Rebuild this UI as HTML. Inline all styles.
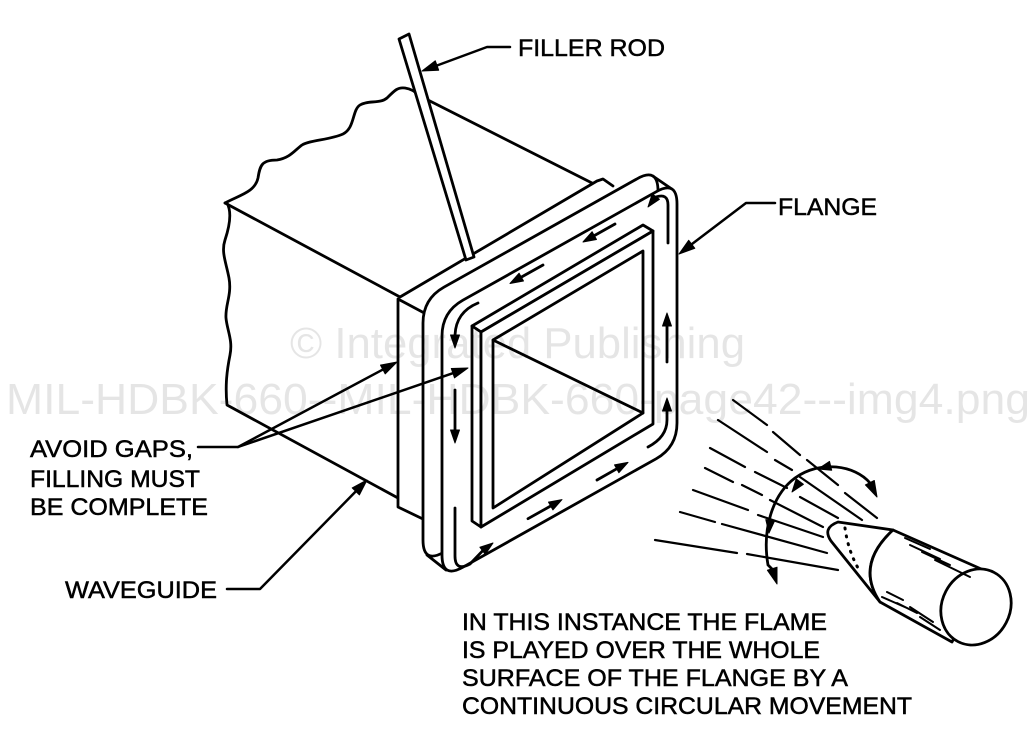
<!DOCTYPE html>
<html><head><meta charset="utf-8"><style>
html,body{margin:0;padding:0;background:#fff;}
svg{display:block;}
text{font-family:"Liberation Sans",Arial,sans-serif;}
</style></head><body>
<svg width="1034" height="745" viewBox="0 0 1034 745" xmlns="http://www.w3.org/2000/svg">
<rect width="1034" height="745" fill="#fff"/>
<g fill="none" stroke="#000" stroke-width="2.8" stroke-linejoin="round" stroke-linecap="round">
<!-- waveguide body -->
<path d="M225,203 C240,195 255,192 258,178 C260,165 262,160 277,160 C290,158 295,150 302,145 C310,140 330,140 343,134 C355,128 352,110 360,105 C368,100 380,104 387,98 C395,90 398,87 405,88 C412,89 415,92 420,96 L592,183"/>
<path d="M225,203 L400,297 L597,181 L603,179 L613,186"/>
<path d="M227,203 C232,212 230,225 225,240 C221,252 226,262 229,278 C232,295 225,305 226,318 C227,330 233,340 230,355 C227,370 225,385 227,405 L398,498"/>
<polygon points="398,299 428,315 425,520 398,507" fill="#fff"/>
<!-- filler rod -->
<polygon points="399,39 409,34 474,257 466,260" fill="#fff"/>
<!-- flange back outline -->
<path d="M443.9,287.2 L637.1,178.8 Q658,167 658,191 L658,408 Q658,432 637.1,443.8 L443.9,552.2 Q423,564 423,540 L423,323 Q423,299 443.9,287.2 Z" fill="#fff"/>
<path d="M652.8,176 L671.8,189"/>
<path d="M427,555 L446,570"/>
<!-- flange front face -->
<path d="M462.9,300.2 L656.1,191.8 Q677,180 677,204 L677,423 Q677,447 656.1,458.8 L462.9,567.2 Q442,579 442,555 L442,336 Q442,312 462.9,300.2 Z" fill="#fff"/>
<!-- track arrows -->
<path d="M615,224 L594.3,235.6"/>
<path d="M543,265 L521.3,277.1"/>
<path d="M668,243 L668,205 Q668,193 656,197"/>
<path d="M478,303 Q456,312 455,335"/>
<path d="M455,390 L455,430"/>
<path d="M455,508 L455,556 Q455,572 470,564 L482.6,550.8"/>
<path d="M528,518.7 L550.7,506"/>
<path d="M597,480 L616.7,468.8"/>
<path d="M648,447 Q667,437 667,420 L667,411"/>
<path d="M667,362 L667,326"/>
<!-- lip -->
<polygon points="472,326 643,225 653,231 481,332" fill="#fff"/>
<polygon points="472,326 481,332 481,527 472,521" fill="#fff"/>
<polygon points="481,332 653,231 653,424 481,527" fill="#fff"/>
<polygon points="493,340 643,251 643,413 493,508" fill="#fff"/>
<path d="M493,340 L643,413"/>
</g>
<!-- arrowheads on track -->
<g fill="#000" stroke="#000" stroke-width="1" stroke-linejoin="round">
<polygon points="583,242 592.1,231.7 596.5,239.5"/>
<polygon points="510,283.5 519.1,273.2 523.5,281"/>
<polygon points="648,207 652.2,193.9 659.4,199.3"/>
<polygon points="455,348 450.5,335 459.5,335"/>
<polygon points="455,443 450.5,430 459.5,430"/>
<polygon points="493,543 485.3,554.4 479.9,547.2"/>
<polygon points="562,499.6 552.9,509.9 548.5,502.1"/>
<polygon points="628,462.4 618.9,472.7 614.5,464.9"/>
<polygon points="667,398 662.5,411 671.5,411"/>
<polygon points="667,313 662.5,326 671.5,326"/>
</g>
<!-- leaders -->
<g fill="none" stroke="#000" stroke-width="2.5" stroke-linejoin="round" stroke-linecap="round">
<path d="M510,47 L487,47 L437,65.5"/>
<path d="M775,203 L746,203 L691.7,244.3"/>
<path d="M198,447 L238,447 L382.9,369.5"/>
<path d="M238,447 L452.9,373.2"/>
<path d="M227,589 L260,589 L355.8,491.4"/>
</g>
<g fill="#000" stroke="#000" stroke-width="1" stroke-linejoin="round">
<polygon points="422,71 435.3,60.8 438.7,70.2"/>
<polygon points="679,254 688.7,240.3 694.8,248.3"/>
<polygon points="397,362 385.2,373.9 380.5,365.1"/>
<polygon points="468,368 454.5,377.9 451.3,368.5"/>
<polygon points="367,480 359.4,494.9 352.2,487.9"/>
</g>
<!-- flame lines -->
<g fill="none" stroke="#000" stroke-width="2.2" stroke-linecap="round">
<path d="M733,400 L767,425 M773,432 L800,455 M807,460 L838,485 M845,493 L877,518"/>
<path d="M718,420 L767,452 M775,460 L792,470 M800,477 L862,520"/>
<path d="M710,448 L745,467 M755,472 L787,488 M800,497 L838,518"/>
<path d="M705,468 L733,482 M742,485 L762,495 M770,500 L823,527"/>
<path d="M693,490 L748,510 M758,515 L823,537"/>
<path d="M680,512 L715,522 M722,524 L827,553"/>
<path d="M655,540 L737,553 M747,554 L838,570"/>
</g>
<!-- circular movement arrow -->
<g fill="none" stroke="#000" stroke-width="2.8" stroke-linecap="round">
<path d="M870,483 C855,465 820,460 795,478 C772,495 762,530 768,565 L772,569"/>
</g>
<g fill="#000" stroke="#000" stroke-width="1" stroke-linejoin="round">
<polygon points="777,584 767.4,570.2 777,567.2"/>
<polygon points="877,497 865.4,484.9 874.3,480.5"/>
<polygon points="792,492 796.2,478.9 803.4,484.3"/>
<polygon points="769,533 765.8,519.6 774.8,520.4"/>
<polygon points="818,469 829.5,461.4 831.7,470.2"/>
</g>
<!-- torch -->
<g fill="#fff" stroke="#000" stroke-width="2.8" stroke-linejoin="round" stroke-linecap="round">
<path d="M838,522 L893,530 Q855,565 880,602 L831,541 Q822,528 838,522 Z"/>
<path d="M893,530 L988,572 L952,642 L880,602 Q855,565 893,530 Z"/>
<ellipse cx="976" cy="607" rx="39" ry="34" transform="rotate(117.6 976 607)"/>
</g>
<path d="M845,528 Q848,550 858,568" fill="none" stroke="#000" stroke-width="3" stroke-dasharray="1 7" stroke-linecap="round"/>
<g fill="none" stroke="#000" stroke-width="2" stroke-linecap="round">
<path d="M905,538 L930,549 M910,545 L940,559 M922,552 L950,565 M935,560 L970,577"/>
<path d="M887,592 L903,600 M882,597 L907,608 M897,603 L917,613 M910,607 L933,622 M920,617 L940,630"/>
</g>
<!-- labels -->
<g fill="#000" stroke="#000" stroke-width="0.5" font-size="24.5">
<text x="518" y="56" textLength="147" lengthAdjust="spacingAndGlyphs">FILLER ROD</text>
<text x="778" y="215" textLength="99" lengthAdjust="spacingAndGlyphs">FLANGE</text>
<text x="30" y="457" textLength="163" lengthAdjust="spacingAndGlyphs">AVOID GAPS,</text>
<text x="30" y="487" textLength="170" lengthAdjust="spacingAndGlyphs">FILLING MUST</text>
<text x="30" y="515" textLength="178" lengthAdjust="spacingAndGlyphs">BE COMPLETE</text>
<text x="65" y="598" textLength="152" lengthAdjust="spacingAndGlyphs">WAVEGUIDE</text>
<text x="462" y="630" textLength="365" lengthAdjust="spacingAndGlyphs">IN THIS INSTANCE THE FLAME</text>
<text x="462" y="658" textLength="358" lengthAdjust="spacingAndGlyphs">IS PLAYED OVER THE WHOLE</text>
<text x="462" y="686" textLength="386" lengthAdjust="spacingAndGlyphs">SURFACE OF THE FLANGE BY A</text>
<text x="462" y="714" textLength="450" lengthAdjust="spacingAndGlyphs">CONTINUOUS CIRCULAR MOVEMENT</text>
</g>
<!-- watermark -->
<g fill="#000" fill-opacity="0.1" font-size="44">
<text x="290" y="358" textLength="455" lengthAdjust="spacingAndGlyphs">© Integrated Publishing</text>
<text x="6" y="414" textLength="1024" lengthAdjust="spacingAndGlyphs">MIL-HDBK-660--MIL-HDBK-660-page42---img4.png</text>
</g>
</svg>
</body></html>
